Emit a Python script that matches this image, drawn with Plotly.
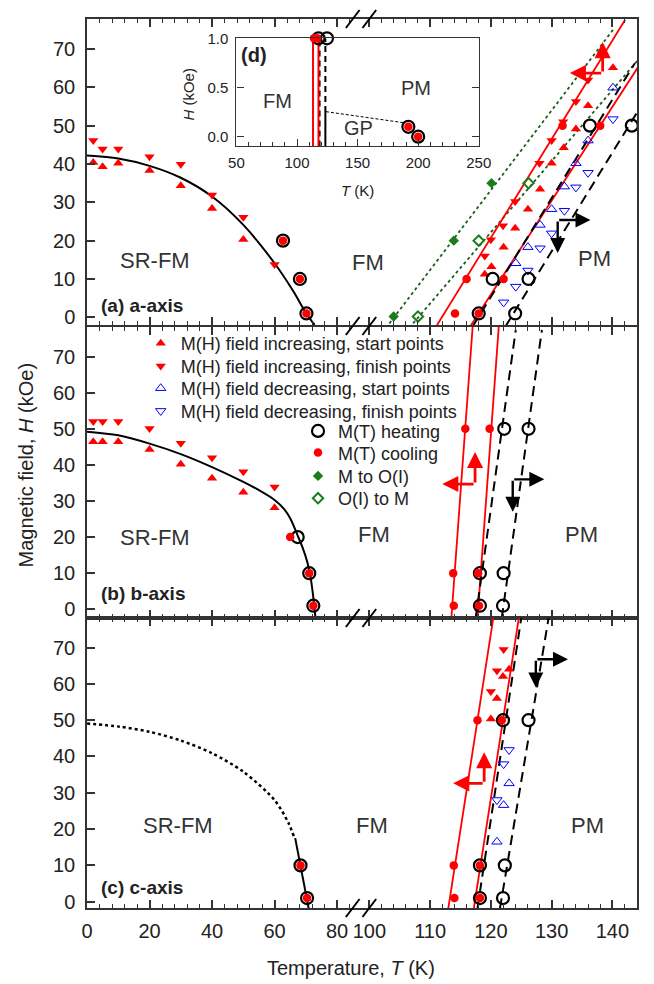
import plotly.graph_objects as go

# ---------------- figure geometry (pixels) ----------------
W, HGT = 654, 984
PL, PR, PT, PB = 87, 650, 19, 908


def px(x):
    return (x - PL) / (PR - PL)


def py(y):
    return (PB - y) / (PB - PT)


FONT = "Liberation Sans, Arial, Helvetica, sans-serif"
RED = "#ff0000"
BLUE = "#0000ff"
GREEN = "#1a7d1a"
DGREEN = "#1d5c1d"
TXT = "#222222"
AX = "#333333"

# ---------------- data: panel (a) a-axis ----------------
a_lo_T = [2, 5, 10, 20, 30, 40, 50, 60]
a_up_H = [40.4, 39.3, 40.2, 38.3, 34.3, 28.4, 20.3]
a_dn_H = [46.1, 43.9, 43.9, 41.9, 39.9, 31.9, 26.1, 13.8]
a_circ_T = [62.7, 68.1, 70.2]
a_circ_H = [20, 10, 1]
a_curve_T = [0, 10, 20, 30, 40, 50, 60, 66, 70, 72.8]
a_curve_H = [42.2, 41.4, 39.5, 36.4, 31.5, 24.1, 14.1, 6.8, 1.2, -2.0]

a_up_T = [140.1, 136.0, 134.0, 132.0, 130.0, 128.1, 126.1, 124.0, 122.1, 120.1, 119.0]
a_up_Hr = [65.1, 55.2, 49.1, 44.2, 40.2, 33.4, 28.2, 23.2, 18.3, 13.2, 11.2]
a_dn_T = [136.0, 134.0, 131.9, 130.0, 128.0, 124.0, 122.0, 120.0, 119.0]
a_dn_Hr = [61.9, 56.3, 51.0, 46.1, 40.2, 30.2, 23.9, 20.2, 16.0]
a_bup_T = [140.1, 136.0, 134.0, 132.1, 130.0, 128.1, 126.1, 124.1]
a_bup_H = [59.9, 46.1, 40.2, 34.1, 28.2, 24.1, 18.3, 14.1]
a_bdn_T = [140.1, 136.0, 134.0, 132.1, 130.0, 128.1, 126.1, 124.1, 122.1]
a_bdn_H = [51.7, 37.7, 33.9, 27.8, 21.9, 18.0, 12.2, 8.0, 3.9]
a_heat_T = [118.0, 124.0, 120.3, 126.2, 136.3, 143.2]
a_heat_H = [1, 1, 10, 10, 50, 50]
a_cool_T = [114.1, 118.0, 116.0, 122.1, 131.8, 138.0]
a_cool_H = [1, 1, 10, 10, 50, 50]
a_mo_T = [104.0, 113.9, 120.1]
a_mo_H = [0.2, 20.0, 35.0]
a_om_T = [108.0, 118.0, 126.2]
a_om_H = [0.2, 20.0, 35.0]
a_red1 = ([111.0, 142.1], [-2.4, 77.6])
a_red2 = ([116.6, 144.2], [-2.4, 65.2])
a_blk1 = ([117.0, 143.7], [-2.4, 66.3])
a_blk2 = ([122.4, 144.2], [-2.4, 53.8])
a_grn1 = ([103.3, 140.3], [-1.6, 75.4])
a_grn2 = ([107.2, 144.2], [-1.6, 67.1])

# ---------------- data: panel (b) b-axis ----------------
b_up_H = [46.4, 46.4, 46.4, 44.3, 40.2, 36.3, 32.4, 28.1]
b_dn_H = [52.0, 52.0, 52.0, 50.1, 46.0, 42.0, 38.1, 33.9]
b_heat_lo_T = [67.4, 71.1, 72.4]
b_cool_lo_T = [65.0, 71.1, 72.4]
b_lo_H = [20, 10, 1]
b_curve_T = [0, 10, 20, 30, 40, 50, 55, 60, 63, 65, 67.4, 69, 70.5, 71.5, 72.3, 72.8, 73.1]
b_curve_H = [49.2, 48.2, 45.9, 43.0, 39.4, 35.3, 33.0, 30.3, 27.8, 25.2, 20.4, 17.0, 13.0, 9.0, 4.0, 0.0, -2.4]
b_heat_T = [118.2, 122.0, 118.2, 122.1, 122.2, 126.2]
b_heat_H = [1, 1, 10, 10, 50, 50]
b_cool_T = [113.9, 118.05, 113.8, 117.9, 115.8, 119.8]
b_cool_H = [1, 1, 10, 10, 50, 50]
b_red1 = ([113.5, 117.0], [-2.4, 78.2])
b_red2 = ([117.8, 121.3], [-2.4, 78.2])
b_blk1 = ([117.5, 124.1], [-2.4, 77.4])
b_blk2 = ([121.8, 128.4], [-2.4, 77.4])

# ---------------- data: panel (c) c-axis ----------------
c_lo_T = [68.3, 70.4]
c_lo_H = [10, 1]
c_dot_T = [0, 10.5, 20, 30, 40, 50, 60, 64.5, 66.2]
c_dot_H = [49.1, 48.2, 46.8, 44.4, 40.9, 35.8, 28.0, 21.6, 17.9]
c_sol_T = [66.6, 68.3, 70.9]
c_sol_H = [17.5, 10.0, -1.8]
c_up_T = [123.0, 122.0, 121.0, 120.0]
c_up_H = [64.0, 62.0, 56.0, 50.3]
c_dn_T = [122.1, 121.0, 120.0]
c_dn_H = [69.5, 63.6, 57.9]
c_bup_T = [123.0, 122.1, 121.0]
c_bup_H = [32.6, 26.6, 16.5]
c_bdn_T = [123.0, 122.1, 121.0]
c_bdn_H = [41.8, 37.9, 28.0]
c_heat_T = [118.2, 122.0, 118.2, 122.3, 122.0, 126.2]
c_heat_H = [1, 1, 10, 10, 50, 50]
c_cool_T = [114.0, 118.2, 113.9, 118.2, 117.8, 121.8]
c_cool_H = [1, 1, 10, 10, 50, 50]
c_red1 = ([113.0, 120.4], [-1.8, 78.1])
c_red2 = ([117.2, 124.6], [-1.8, 78.1])
c_blk1 = ([117.8, 125.0], [-1.8, 78.1])
c_blk2 = ([121.5, 129.5], [-1.8, 78.1])

# ---------------- data: inset (d) ----------------
d_heat_T = [117.7, 124.7, 191.9, 200.0]
d_heat_H = [1.0, 1.0, 0.1, 0.0]
d_cool_T = [114.0, 116.7, 191.9, 200.0]
d_cool_H = [1.0, 1.0, 0.1, 0.0]
d_red1 = ([113.2, 113.2], [-0.1, 1.0])
d_red2 = ([117.7, 117.7], [-0.1, 1.0])
d_blk1 = ([118.6, 118.6], [-0.1, 1.0])
d_blk2 = ([123.4, 123.4], [0.25, 1.0])
d_blk3 = ([123.4, 123.4], [-0.1, 0.25])
d_gp = ([123.9, 189.5], [0.254, 0.139])

KEYS = ["up", "dn", "bup", "bdn", "heat", "cool", "mo", "om"]
NAMES = ["M(H) field increasing, start points", "M(H) field increasing, finish points",
         "M(H) field decreasing, start points", "M(H) field decreasing, finish points",
         "M(T) heating", "M(T) cooling", "M to O(I)", "O(I) to M"]

MK = {
    "up": dict(symbol="triangle-up", size=9, color=RED, line=dict(width=0)),
    "dn": dict(symbol="triangle-down", size=9, color=RED, line=dict(width=0)),
    "bup": dict(symbol="triangle-up-open", size=9, color=BLUE, line=dict(width=1, color=BLUE)),
    "bdn": dict(symbol="triangle-down-open", size=9, color=BLUE, line=dict(width=1, color=BLUE)),
    "heat": dict(symbol="circle-open", size=12, color="black", line=dict(width=2.2, color="black")),
    "cool": dict(symbol="circle", size=8.5, color=RED, line=dict(width=0)),
    "mo": dict(symbol="diamond", size=8, color=GREEN, line=dict(width=0)),
    "om": dict(symbol="diamond-open", size=8, color=GREEN, line=dict(width=2, color=GREEN)),
}
KEY_NAME = dict(zip(KEYS, NAMES))
KEY_LEG = {k: ("legend" if i == 0 else "legend%d" % (i + 1)) for i, k in enumerate(KEYS)}

fig = go.Figure()


def pts(key, x, y, xa, ya, legend=False, clip=True):
    fig.add_trace(go.Scatter(x=x, y=y, xaxis=xa, yaxis=ya, mode="markers",
                             marker=MK[key], name=KEY_NAME[key], showlegend=legend,
                             legend=KEY_LEG[key], cliponaxis=clip, hoverinfo="skip"))


def ln(xy, xa, ya, color, width=1.8, dash="solid", shape="linear"):
    fig.add_trace(go.Scatter(x=xy[0], y=xy[1], xaxis=xa, yaxis=ya, mode="lines",
                             line=dict(color=color, width=width, dash=dash, shape=shape, smoothing=0.8),
                             showlegend=False, hoverinfo="skip"))


BDASH = "10px,6px"

# ----- panel a -----
ln((a_curve_T, a_curve_H), "x", "y", "black", 2, shape="spline")
pts("up", a_lo_T[:len(a_up_H)], a_up_H, "x", "y")
pts("dn", a_lo_T, a_dn_H, "x", "y")
pts("heat", a_circ_T, a_circ_H, "x", "y")
pts("cool", a_circ_T, a_circ_H, "x", "y")

ln(a_grn1, "x2", "y2", DGREEN, 1.8, "dot")
ln(a_grn2, "x2", "y2", DGREEN, 1.8, "dot")
ln(a_red1, "x2", "y2", RED, 1.8)
ln(a_red2, "x2", "y2", RED, 1.8)
ln(a_blk1, "x2", "y2", "black", 2, BDASH)
ln(a_blk2, "x2", "y2", "black", 2, BDASH)
pts("up", a_up_T, a_up_Hr, "x2", "y2", legend=True)
pts("dn", a_dn_T, a_dn_Hr, "x2", "y2", legend=True)
pts("bup", a_bup_T, a_bup_H, "x2", "y2", legend=True)
pts("bdn", a_bdn_T, a_bdn_H, "x2", "y2", legend=True)
pts("heat", a_heat_T, a_heat_H, "x2", "y2", legend=True)
pts("cool", a_cool_T, a_cool_H, "x2", "y2", legend=True)
pts("mo", a_mo_T, a_mo_H, "x2", "y2", legend=True)
pts("om", a_om_T, a_om_H, "x2", "y2", legend=True)

# ----- panel b -----
ln((b_curve_T, b_curve_H), "x3", "y3", "black", 2, shape="spline")
pts("up", a_lo_T, b_up_H, "x3", "y3")
pts("dn", a_lo_T, b_dn_H, "x3", "y3")
pts("heat", b_heat_lo_T, b_lo_H, "x3", "y3")
pts("cool", b_cool_lo_T, b_lo_H, "x3", "y3")
ln(b_red1, "x4", "y4", RED, 1.8)
ln(b_red2, "x4", "y4", RED, 1.8)
ln(b_blk1, "x4", "y4", "black", 2, BDASH)
ln(b_blk2, "x4", "y4", "black", 2, BDASH)
pts("heat", b_heat_T, b_heat_H, "x4", "y4")
pts("cool", b_cool_T, b_cool_H, "x4", "y4")

# ----- panel c -----
ln((c_dot_T, c_dot_H), "x5", "y5", "black", 2.5, "dot", shape="spline")
ln((c_sol_T, c_sol_H), "x5", "y5", "black", 2)
pts("heat", c_lo_T, c_lo_H, "x5", "y5")
pts("cool", c_lo_T, c_lo_H, "x5", "y5")
ln(c_red1, "x6", "y6", RED, 1.8)
ln(c_red2, "x6", "y6", RED, 1.8)
ln(c_blk1, "x6", "y6", "black", 2, BDASH)
ln(c_blk2, "x6", "y6", "black", 2, BDASH)
pts("up", c_up_T, c_up_H, "x6", "y6")
pts("dn", c_dn_T, c_dn_H, "x6", "y6")
pts("bup", c_bup_T, c_bup_H, "x6", "y6")
pts("bdn", c_bdn_T, c_bdn_H, "x6", "y6")
pts("heat", c_heat_T, c_heat_H, "x6", "y6")
pts("cool", c_cool_T, c_cool_H, "x6", "y6")

# ----- inset d -----
ln(d_blk1, "x7", "y7", "black", 2, "6px,4px")
ln(d_blk2, "x7", "y7", "black", 2, "6px,4px")
ln(d_blk3, "x7", "y7", "black", 2)
ln(d_red1, "x7", "y7", RED, 2)
ln(d_red2, "x7", "y7", RED, 2)
ln(d_gp, "x7", "y7", "black", 1, "3px,2px")
pts("heat", d_heat_T, d_heat_H, "x7", "y7", clip=False)
pts("cool", d_cool_T, d_cool_H, "x7", "y7", clip=False)

# ---------------- axes ----------------
XL_DOM = [0, px(368)]
XR_DOM = [px(368), 1]
XL_RANGE = [0, (368 - 87) / 3.2]
XR_RANGE = [100 + (368 - 376) / 6.22, 100 + (650 - 376) / 6.22]
PANELS = [
    (py(325), 1.0, [-2.01, 77.82]),
    (py(618), py(327), [-2.41, 78.2]),
    (0.0, py(618), [-1.74, 78.15]),
]
TICKSZ = 20


def xax(dom, rng, tv, mdt, anchor, labels):
    return dict(domain=dom, range=rng, anchor=anchor, showline=True, linecolor=AX, linewidth=1.5,
                mirror="ticks", ticks="inside", ticklen=8, tickwidth=1.5, tickcolor=AX,
                tickvals=tv, showticklabels=labels, showgrid=False, zeroline=False,
                minor=dict(ticks="inside", ticklen=4.5, tickwidth=1.2, tickcolor=AX, dtick=mdt, tick0=0, showgrid=False),
                tickfont=dict(family=FONT, size=TICKSZ, color=TXT), ticklabelstandoff=4, fixedrange=True)


lay = {}
for i, (y0, y1, yr) in enumerate(PANELS):
    n1, n2 = 2 * i + 1, 2 * i + 2
    s1 = "" if n1 == 1 else str(n1)
    s2 = str(n2)
    labels = (i == 2)
    lay["xaxis" + s1] = xax(XL_DOM, XL_RANGE, [0, 20, 40, 60, 80], 4, "y" + s1, labels)
    lay["xaxis" + s2] = xax(XR_DOM, XR_RANGE, [100, 110, 120, 130, 140], 2, "y" + s2, labels)
    lay["yaxis" + s1] = dict(domain=[y0, y1], range=yr, anchor="x" + s1, showline=True, linecolor=AX,
                             linewidth=1.5, ticks="inside", ticklen=8, tickwidth=1.5, tickcolor=AX,
                             tickvals=[0, 10, 20, 30, 40, 50, 60, 70], showgrid=False, zeroline=False,
                             tickfont=dict(family=FONT, size=TICKSZ, color=TXT), ticklabelstandoff=6,
                             fixedrange=True)
    lay["yaxis" + s2] = dict(domain=[y0, y1], range=yr, anchor="x" + s2, side="right", showline=True,
                             linecolor=AX, linewidth=1.5, ticks="", showticklabels=False,
                             showgrid=False, zeroline=False, fixedrange=True)

lay["xaxis7"] = dict(domain=[px(240), px(488)], range=[50, 250], anchor="y7", showline=True, linecolor=AX,
                     linewidth=1.3, mirror=True, ticks="inside", ticklen=7, tickwidth=1.2, tickcolor=AX,
                     tickvals=[50, 100, 150, 200, 250], showgrid=False, zeroline=False,
                     minor=dict(ticks="inside", ticklen=4, tickwidth=1, tickcolor=AX, dtick=10, tick0=0, showgrid=False),
                     tickfont=dict(family=FONT, size=15, color=TXT), ticklabelstandoff=3, fixedrange=True)
lay["yaxis7"] = dict(domain=[py(146), py(38.3)], range=[-0.095, 1.0], anchor="x7", showline=True, linecolor=AX,
                     linewidth=1.3, mirror="ticks", ticks="inside", ticklen=7, tickwidth=1.2, tickcolor=AX,
                     tickvals=[0, 0.5, 1.0], ticktext=["0.0", "0.5", "1.0"], showgrid=False, zeroline=False,
                     tickfont=dict(family=FONT, size=15, color=TXT), ticklabelstandoff=4, fixedrange=True)

# ---------------- legends (one per entry, to match the reference spacing) ----------------
LEG_X = [142, 142, 142, 142, 303, 303, 303, 303]
LEG_Y = [345, 367.7, 390, 412.7, 432.7, 454.3, 477.7, 500]
for i, k in enumerate(KEYS):
    lay[KEY_LEG[k]] = dict(x=px(LEG_X[i]), y=py(LEG_Y[i] - 20), xanchor="left", yanchor="top",
                           bgcolor="rgba(0,0,0,0)", font=dict(family=FONT, size=18, color=TXT),
                           itemclick=False, itemdoubleclick=False, borderwidth=0)

# ---------------- annotations ----------------
ann = []


def txt(x, y, s, size=22, bold=False, xanchor="center", angle=0, color="#333333"):
    ann.append(dict(x=px(x), y=py(y), xref="paper", yref="paper", text=("<b>%s</b>" % s) if bold else s,
                    showarrow=False, xanchor=xanchor, yanchor="middle", textangle=angle,
                    font=dict(family=FONT, size=size, color=color)))


for (x, y, s) in [(156.7, 260, "SR-FM"), (375, 262, "FM"), (607, 258, "PM"),
                  (156.7, 537, "SR-FM"), (381, 535, "FM"), (593, 535, "PM"),
                  (180, 825, "SR-FM"), (379, 825, "FM"), (599, 825, "PM")]:
    txt(x, y, s)
txt(99, 305, "(a) a-axis", size=19, bold=True, xanchor="left", color=TXT)
txt(99, 593, "(b) b-axis", size=19, bold=True, xanchor="left", color=TXT)
txt(99, 887, "(c) c-axis", size=19, bold=True, xanchor="left", color=TXT)
txt(25, 465, "Magnetic field, <i>H</i> (kOe)", size=20, angle=-90, color=TXT)
txt(357, 968, "Temperature, <i>T</i> (K)", size=20, color=TXT)
# inset texts
txt(243, 55, "(d)", size=20, bold=True, xanchor="left", color=TXT)
txt(282, 101, "FM", size=20)
txt(424, 88, "PM", size=20)
txt(365, 128, "GP", size=20)
txt(190, 94, "<i>H</i> (kOe)", size=15, angle=-90, color=TXT)
txt(364, 190, "<i>T</i> (K)", size=15, color=TXT)


def elbow(xa, ya, corner, up_tip, side_tip, color, width, size):
    for tip in (up_tip, side_tip):
        ann.append(dict(x=tip[0], y=tip[1], ax=corner[0], ay=corner[1], xref=xa, yref=ya,
                        axref=xa, ayref=ya, text="", showarrow=True, arrowhead=2, arrowsize=size,
                        arrowwidth=width, arrowcolor=color))


elbow("x2", "y2", (138.4, 63.7), (138.4, 71.8), (133.0, 63.7), RED, 2.8, 1.15)
elbow("x2", "y2", (131.0, 25.4), (136.4, 25.4), (131.0, 16.8), "black", 2.4, 1.25)
elbow("x4", "y4", (117.4, 34.7), (117.4, 43.6), (112.0, 34.7), RED, 2.8, 1.15)
elbow("x4", "y4", (123.6, 36.0), (128.8, 36.0), (123.6, 27.0), "black", 2.4, 1.25)
elbow("x6", "y6", (118.9, 32.6), (118.9, 41.2), (113.8, 32.6), RED, 2.8, 1.15)
elbow("x6", "y6", (127.4, 66.8), (132.7, 66.8), (127.4, 59.0), "black", 2.4, 1.25)

# ---------------- axis break marks ----------------
shapes = []
for yb in [19, 326, 618, 908]:
    for cx in [359, 376]:
        shapes.append(dict(type="line", xref="paper", yref="paper", x0=px(cx - 7), y0=py(yb + 9),
                           x1=px(cx + 7), y1=py(yb - 9), line=dict(color="black", width=2)))

fig.update_layout(
    width=W, height=HGT, margin=dict(l=PL, r=W - PR, t=PT, b=HGT - PB),
    paper_bgcolor="white", plot_bgcolor="white", font=dict(family=FONT, color=TXT),
    annotations=ann, shapes=shapes, hovermode=False,
    **lay,
)

fig.write_html("out.html", config={"displayModeBar": False})
